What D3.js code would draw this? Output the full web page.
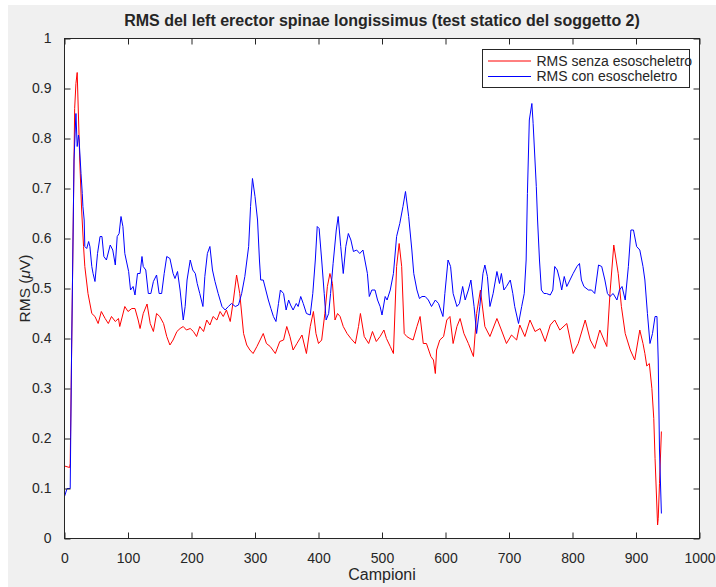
<!DOCTYPE html>
<html>
<head>
<meta charset="utf-8">
<script src="https://cdn.jsdelivr.net/npm/d3@7"></script>
<style>
  html, body { margin: 0; padding: 0; background: #ffffff; }
  svg { display: block; }
  text { font-family: "Liberation Sans", Arial, Helvetica, sans-serif; fill: #262626; }
</style>
</head>
<body>
<svg id="chart" width="716" height="587"></svg>
<script>
// RMS envelope, static test of subject 2, left erector spinae longissimus
// Each entry: [sample index, RMS value in µV]
const senza = [
  [0,.145],[8,.142],[9,.15],[16,.86],[18,.91],[20,.932],[24,.757],[27,.657],[30,.584],[32,.544],
  [37,.49],[43,.45],[48,.444],[53,.43],[58,.454],[64,.44],[69,.43],[74,.444],[80,.434],[85,.44],
  [87,.424],[95,.464],[100,.454],[106,.46],[111,.46],[116,.437],[119,.42],[124,.45],[130,.469],[135,.43],
  [140,.414],[145,.45],[150,.444],[156,.43],[161,.404],[166,.387],[171,.397],[177,.414],[182,.42],[187,.424],
  [192,.417],[198,.42],[203,.414],[208,.404],[213,.424],[219,.414],[224,.437],[229,.427],[234,.444],[240,.437],
  [245,.454],[250,.444],[255,.457],[261,.434],[266,.477],[271,.527],[276,.49],[282,.41],[287,.387],[292,.377],
  [297,.37],[303,.384],[308,.397],[313,.41],[318,.39],[324,.384],[332,.37],[339,.394],[345,.397],[350,.424],
  [355,.404],[360,.377],[366,.39],[374,.407],[381,.37],[387,.424],[392,.454],[396,.41],[400,.39],[405,.397],
  [410,.45],[414,.504],[418,.53],[422,.51],[426,.437],[430,.45],[434,.444],[439,.424],[445,.41],[451,.4],
  [458,.39],[463,.424],[466,.45],[472,.404],[479,.39],[485,.414],[491,.394],[497,.404],[503,.417],[507,.4],
  [513,.384],[518,.37],[523,.544],[527,.59],[531,.544],[535,.41],[539,.404],[544,.4],[549,.397],[555,.424],
  [560,.444],[565,.39],[570,.39],[577,.364],[581,.357],[584,.33],[586,.377],[591,.397],[597,.404],[602,.437],
  [607,.444],[612,.39],[618,.424],[623,.44],[629,.41],[636,.39],[644,.364],[649,.45],[655,.497],[662,.424],
  [670,.404],[681,.44],[688,.417],[696,.39],[704,.407],[712,.397],[717,.427],[725,.404],[733,.437],[741,.414],
  [749,.42],[757,.394],[765,.427],[772,.437],[780,.417],[791,.43],[801,.37],[809,.39],[820,.437],[828,.397],
  [835,.38],[843,.417],[854,.384],[859,.49],[865,.587],[872,.53],[877,.464],[883,.41],[891,.377],[898,.357],
  [906,.417],[911,.39],[914,.37],[917,.345],[921,.35],[925,.30],[928,.24],[930,.16],[934,.027],[935,.04],
  [937,.11],[940,.214]
];

const con = [
  [0,.084],[4,.10],[9,.10],[11,.357],[15,.757],[18,.85],[20,.784],[22,.807],[23,.797],[26,.73],
  [28,.69],[29,.664],[31,.637],[32,.584],[35,.58],[38,.594],[40,.584],[43,.544],[45,.53],[48,.514],
  [52,.57],[56,.604],[59,.604],[62,.564],[66,.557],[72,.587],[76,.577],[80,.547],[83,.604],[86,.61],
  [89,.644],[92,.624],[95,.57],[101,.534],[104,.497],[108,.504],[111,.487],[115,.53],[119,.53],[122,.564],
  [124,.544],[128,.537],[132,.49],[136,.49],[140,.514],[145,.527],[149,.49],[153,.49],[157,.53],[161,.564],
  [166,.56],[171,.53],[174,.52],[178,.534],[182,.497],[187,.437],[190,.464],[193,.517],[198,.557],[202,.537],
  [206,.53],[209,.51],[213,.49],[218,.464],[221,.524],[225,.57],[229,.584],[233,.537],[237,.514],[242,.49],
  [248,.464],[253,.457],[258,.464],[263,.47],[269,.464],[274,.467],[279,.49],[284,.524],[290,.584],[293,.664],
  [296,.72],[300,.684],[304,.637],[307,.557],[309,.517],[313,.517],[317,.497],[321,.477],[325,.46],[329,.444],
  [333,.434],[337,.47],[340,.497],[345,.49],[349,.457],[353,.477],[356,.467],[360,.457],[365,.47],[368,.464],
  [372,.484],[376,.47],[381,.45],[387,.447],[391,.49],[395,.557],[398,.624],[401,.62],[405,.557],[409,.49],
  [412,.437],[416,.45],[419,.49],[423,.55],[428,.617],[431,.644],[435,.584],[439,.53],[443,.584],[447,.61],
  [451,.597],[455,.574],[460,.577],[465,.57],[470,.577],[473,.557],[477,.53],[480,.484],[484,.497],[489,.497],
  [493,.477],[497,.464],[500,.447],[505,.484],[508,.477],[513,.497],[518,.53],[523,.604],[528,.63],[533,.664],
  [537,.694],[542,.644],[547,.577],[550,.53],[555,.497],[559,.48],[563,.484],[568,.484],[573,.477],[578,.464],
  [584,.477],[589,.47],[596,.444],[599,.49],[604,.557],[608,.544],[612,.49],[618,.464],[622,.47],[627,.504],
  [631,.477],[636,.497],[640,.517],[645,.464],[649,.41],[654,.464],[659,.53],[662,.547],[666,.524],[670,.464],
  [675,.49],[681,.534],[685,.51],[688,.53],[692,.497],[696,.504],[702,.517],[706,.49],[709,.464],[715,.43],
  [720,.464],[724,.49],[727,.557],[729,.69],[732,.837],[736,.87],[738,.83],[743,.704],[745,.637],[748,.557],
  [751,.497],[755,.49],[759,.49],[765,.487],[769,.497],[772,.544],[776,.537],[780,.517],[783,.497],[787,.524],
  [791,.504],[796,.517],[801,.53],[807,.544],[811,.55],[814,.517],[818,.504],[825,.497],[830,.497],[835,.49],
  [841,.547],[846,.544],[851,.517],[855,.49],[859,.484],[864,.49],[870,.477],[874,.497],[878,.504],[883,.477],
  [888,.544],[892,.617],[896,.617],[901,.584],[906,.577],[911,.544],[914,.517],[918,.45],[922,.39],[926,.41],
  [930,.444],[933,.444],[935,.357],[937,.177],[940,.05]
];

const xTicks = [0, 100, 200, 300, 400, 500, 600, 700, 800, 900, 1000];
const yTicks = [0, 0.1, 0.2, 0.3, 0.4, 0.5, 0.6, 0.7, 0.8, 0.9, 1];
const seriesNames = ["RMS senza esoscheletro", "RMS con esoscheletro"];
const seriesColors = ["#ff0000", "#0000ff"];

const svg = d3.select("#chart");
const W = 716, H = 587;
const plot = { left: 64.5, right: 699.5, top: 38.5, bottom: 538.5 };
const axisColor = "#262626";
const tickLen = 6;

// Figure background
svg.append("rect").attr("x", 8).attr("y", 5).attr("width", W - 8).attr("height", H - 5)
  .attr("fill", "#f0f0f0");

// Axes area
svg.append("rect")
  .attr("x", plot.left).attr("y", plot.top)
  .attr("width", plot.right - plot.left).attr("height", plot.bottom - plot.top)
  .attr("fill", "#ffffff");

const x = d3.scaleLinear().domain([0, 1000]).range([plot.left, plot.right]);
const y = d3.scaleLinear().domain([0, 1]).range([plot.bottom, plot.top]);

// Data lines (clipped to the axes box)
svg.append("clipPath").attr("id", "plotClip").append("rect")
  .attr("x", plot.left).attr("y", plot.top)
  .attr("width", plot.right - plot.left).attr("height", plot.bottom - plot.top);

const line = d3.line().x(d => x(d[0])).y(d => y(d[1]));
const lines = svg.append("g").attr("clip-path", "url(#plotClip)");
[senza, con].forEach((s, i) => {
  lines.append("path").datum(s)
    .attr("d", line)
    .attr("fill", "none")
    .attr("stroke", seriesColors[i])
    .attr("stroke-width", 1)
    .attr("stroke-linejoin", "round");
});

// Axes: ticks pointing inward on all four sides, box outline
const fmtY = d => d === 0 ? "0" : d === 1 ? "1" : d3.format(".1f")(d);

const bottomAxis = d3.axisBottom(x).tickValues(xTicks).tickSize(-tickLen).tickPadding(tickLen + 9).tickFormat(d3.format("d"));
const topAxis = d3.axisTop(x).tickValues(xTicks).tickSize(-tickLen).tickFormat("");
const leftAxis = d3.axisLeft(y).tickValues(yTicks).tickSize(-tickLen).tickPadding(tickLen + 7).tickFormat(fmtY);
const rightAxis = d3.axisRight(y).tickValues(yTicks).tickSize(-tickLen).tickFormat("");

function styleAxis(g) {
  g.select(".domain").remove();
  g.selectAll(".tick line").attr("stroke", axisColor).attr("stroke-width", 1);
  g.selectAll(".tick text").attr("fill", axisColor).style("font-size", "14px")
    .style("font-family", '"Liberation Sans", Arial, Helvetica, sans-serif');
}

svg.append("g").attr("transform", `translate(0,${plot.bottom})`).call(bottomAxis).call(styleAxis);
svg.append("g").attr("transform", `translate(0,${plot.top})`).call(topAxis).call(styleAxis);
svg.append("g").attr("transform", `translate(${plot.left},0)`).call(leftAxis).call(styleAxis);
svg.append("g").attr("transform", `translate(${plot.right},0)`).call(rightAxis).call(styleAxis);

svg.append("rect")
  .attr("x", plot.left).attr("y", plot.top)
  .attr("width", plot.right - plot.left).attr("height", plot.bottom - plot.top)
  .attr("fill", "none").attr("stroke", axisColor).attr("stroke-width", 1);

// Title
svg.append("text")
  .attr("x", (plot.left + plot.right) / 2).attr("y", 26)
  .attr("text-anchor", "middle")
  .style("font-size", "16px").style("font-weight", "bold")
  .attr("fill", "#000")
  .text("RMS del left erector spinae longissimus (test statico del soggetto 2)");

// Axis labels
svg.append("text")
  .attr("x", (plot.left + plot.right) / 2).attr("y", 580)
  .attr("text-anchor", "middle")
  .style("font-size", "16px")
  .text("Campioni");

const yLab = svg.append("text")
  .attr("transform", `translate(30,${(plot.top + plot.bottom) / 2}) rotate(-90)`)
  .attr("text-anchor", "middle")
  .style("font-size", "15.5px");
yLab.append("tspan").text("RMS (");
yLab.append("tspan").style("font-style", "italic").text("\u03BC");
yLab.append("tspan").text("V)");

// Legend
const legend = svg.append("g");
legend.append("rect")
  .attr("x", 482.5).attr("y", 49.5).attr("width", 207).attr("height", 38)
  .attr("fill", "#ffffff").attr("stroke", axisColor).attr("stroke-width", 1);
seriesNames.forEach((name, i) => {
  const cy = 61 + i * 15.5;
  legend.append("line")
    .attr("x1", 488).attr("x2", 531).attr("y1", cy).attr("y2", cy)
    .attr("stroke", seriesColors[i]).attr("stroke-width", 1);
  legend.append("text")
    .attr("x", 536.5).attr("y", cy).attr("dy", "0.35em")
    .style("font-size", "14px")
    .attr("fill", "#000")
    .text(name);
});
</script>
</body>
</html>
